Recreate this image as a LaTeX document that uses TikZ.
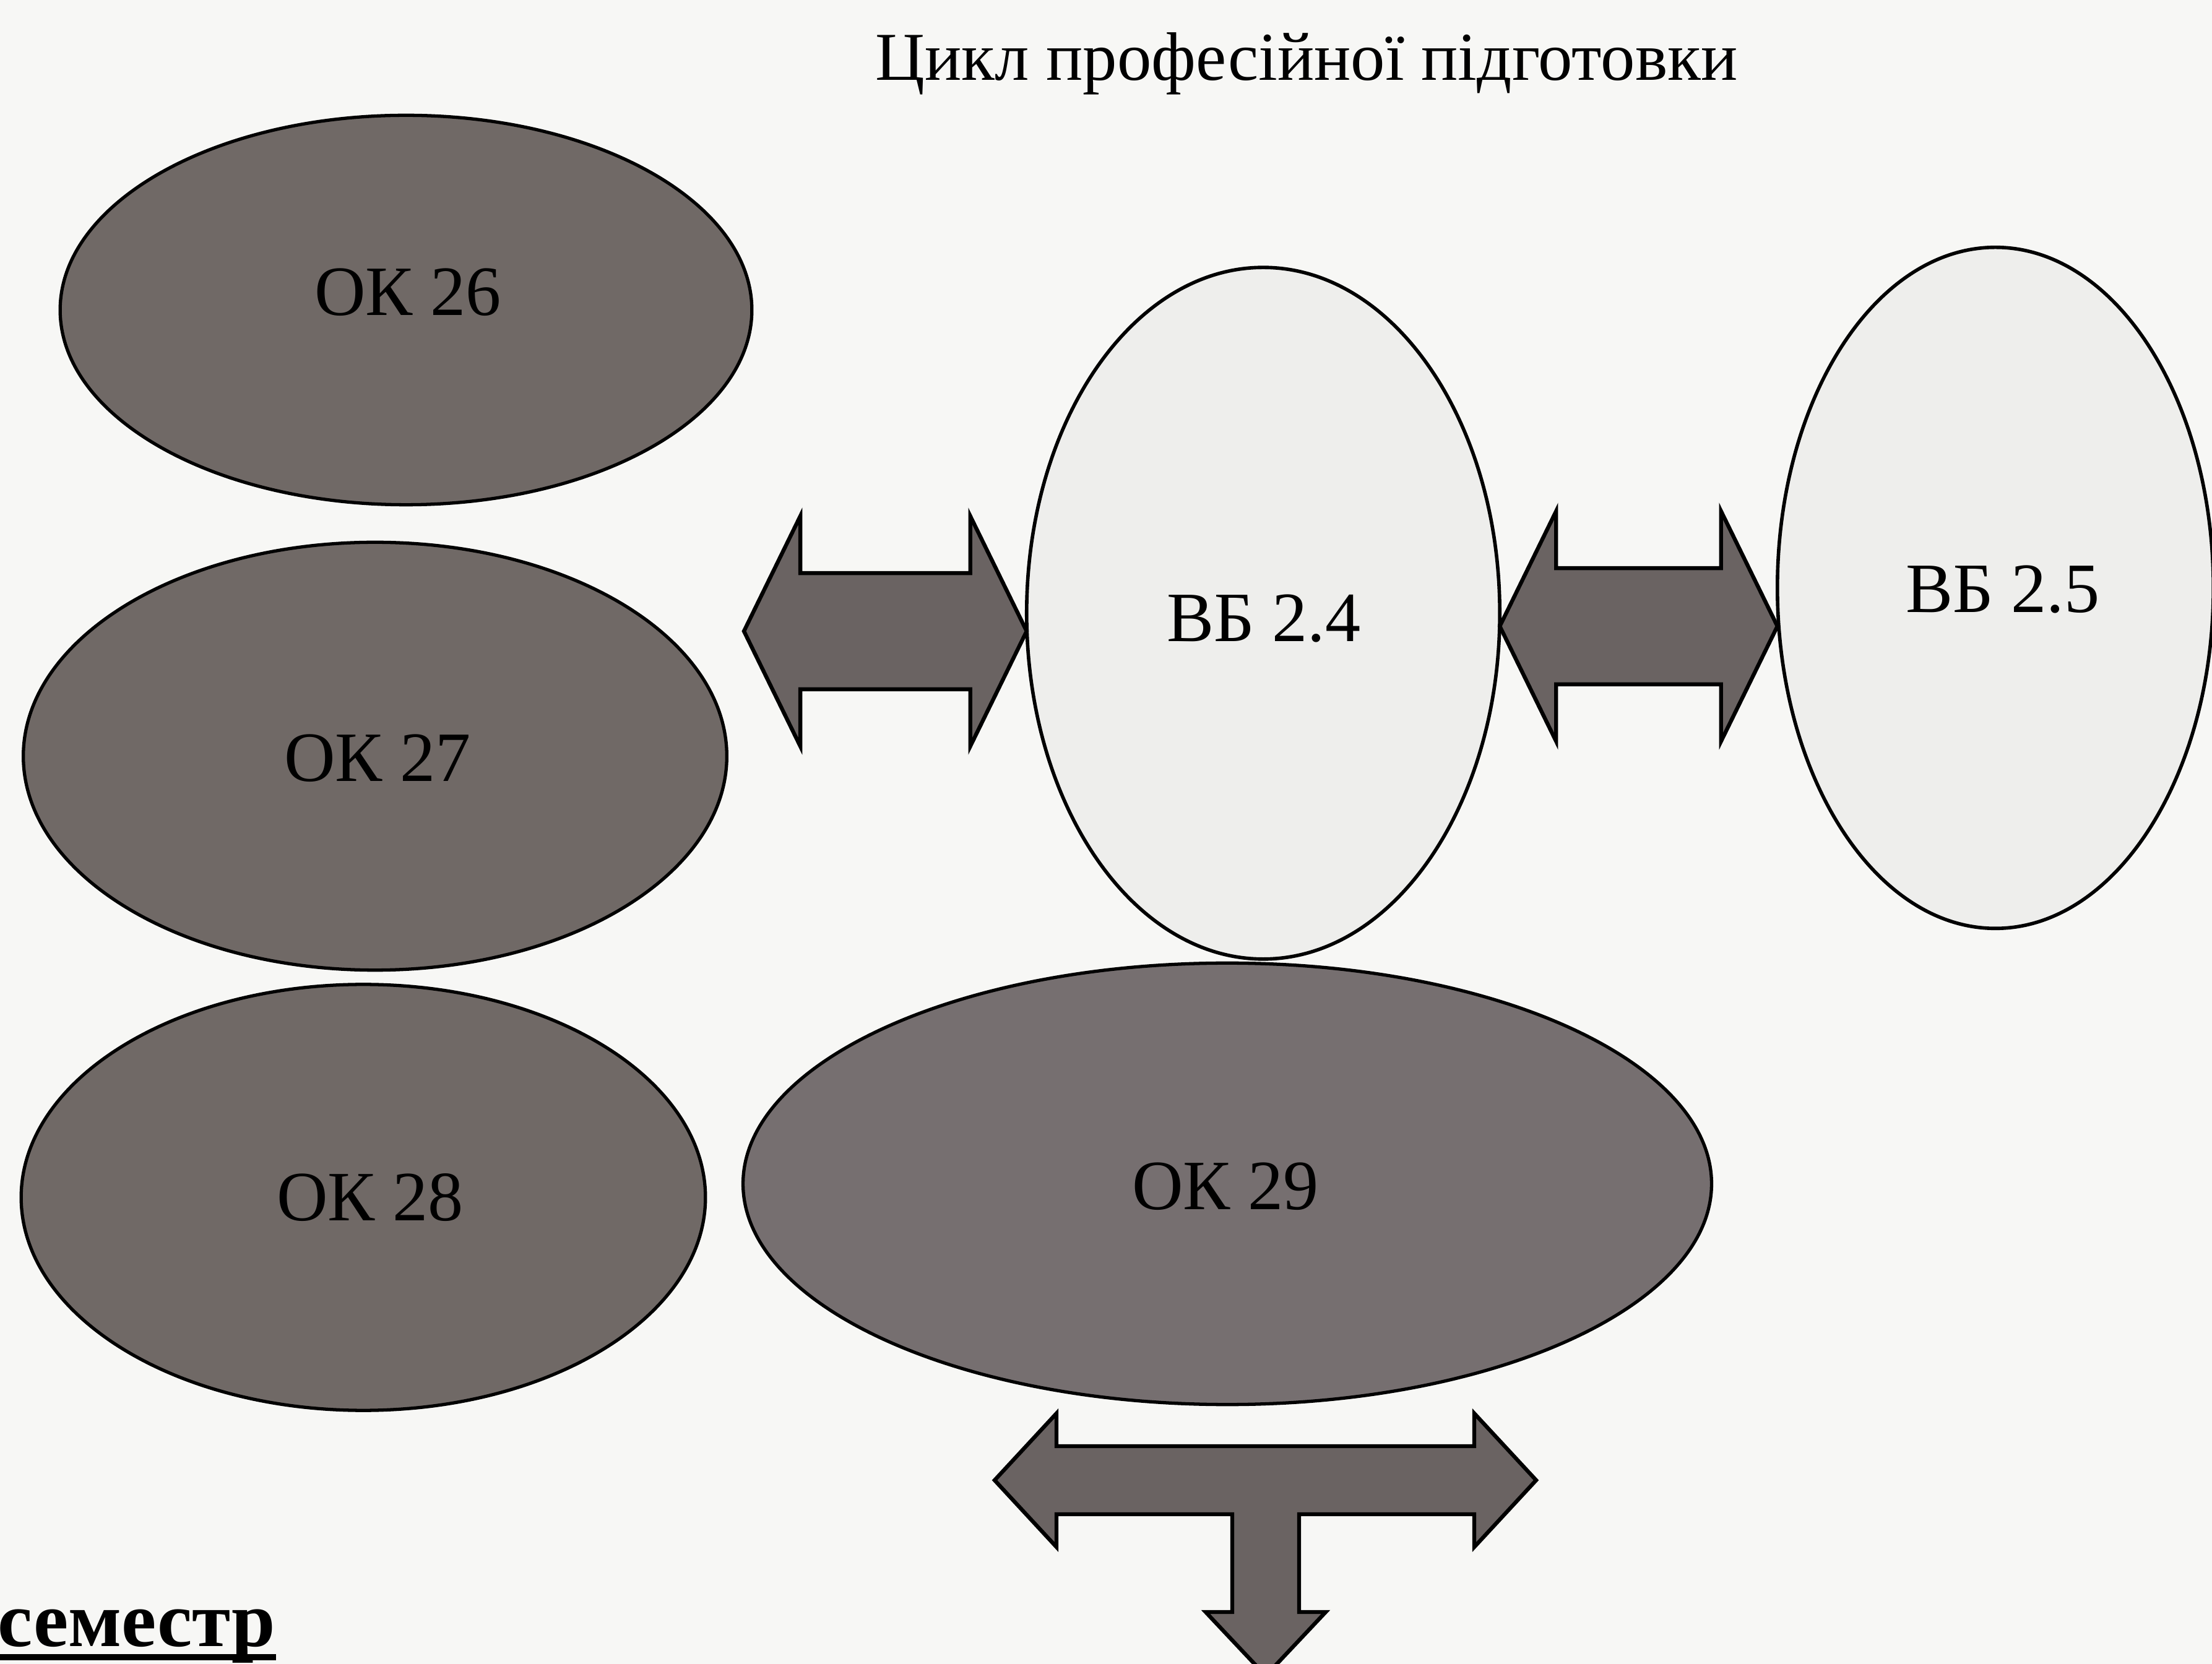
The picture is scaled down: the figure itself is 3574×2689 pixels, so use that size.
\documentclass[tikz,border=0pt]{standalone}
\usepackage{fontspec}
\setmainfont{Liberation Serif}
\usetikzlibrary{shapes.geometric,calc}
\definecolor{bgcol}{RGB}{247,247,245}
\definecolor{darkfill}{RGB}{112,105,102}
\definecolor{darkfillb}{RGB}{118,111,112}
\definecolor{lightfill}{RGB}{238,238,236}
\definecolor{arrfill}{RGB}{106,99,98}
\tikzset{
  darkell/.style={ellipse, draw=black, line width=1.5pt, fill=darkfill, inner sep=0pt, outer sep=0pt},
  lightell/.style={ellipse, draw=black, line width=1.6pt, fill=lightfill, inner sep=0pt, outer sep=0pt},
  lbl/.style={inner sep=0pt, font=\fontsize{32.5}{38}\selectfont},
  blockarr/.style={draw=black, line width=1.8pt, fill=arrfill, line join=miter},
}
\newcommand\dblarrow[2]{%
  \draw[blockarr] let \p1=#1, \p2=#2 in
    (\x1,\y1) -- (\x1+25.9pt,\y1+52.9pt) -- (\x1+25.9pt,\y1+26.7pt)
    -- (\x2-25.9pt,\y1+26.7pt) -- (\x2-25.9pt,\y1+52.9pt) -- (\x2,\y1)
    -- (\x2-25.9pt,\y1-52.9pt) -- (\x2-25.9pt,\y1-26.7pt)
    -- (\x1+25.9pt,\y1-26.7pt) -- (\x1+25.9pt,\y1-52.9pt) -- cycle;}
\begin{document}
\begin{tikzpicture}[x=0.01cm,y=-0.01cm]
\useasboundingbox (0,0) rectangle (3574,2689);
\clip (0,0) rectangle (3574,2689);
\fill[bgcol] (0,0) rectangle (3574,2689);

% title
\node[inner sep=0pt, anchor=base, font=\fontsize{31.5}{38}\selectfont] (title) at (2111,130) {Цикл професійної підготовки};

% ellipses
\node[darkell, minimum width=11.17cm, minimum height=6.29cm] (OK26) at (656,501) {};
\node[darkell, minimum width=11.36cm, minimum height=6.91cm] (OK27) at (606,1222) {};
\node[darkell, minimum width=11.05cm, minimum height=6.88cm] (OK28) at (587,1935) {};
\node[darkell, fill=darkfillb, minimum width=15.64cm, minimum height=7.13cm] (OK29) at (1983,1913) {};
\node[lightell, minimum width=7.64cm, minimum height=11.17cm] (VB24) at (2041,991) {};
\node[lightell, minimum width=7.04cm, minimum height=11.00cm] (VB25) at (3224,950) {};

% labels
\node[lbl] (tOK26) at (659,472) {ОК 26};
\node[lbl] (tOK27) at (610,1225) {ОК 27};
\node[lbl] (tOK28) at (598,1935) {ОК 28};
\node[lbl] (tOK29) at (1980,1917) {ОК 29};
\node[lbl] (tVB24) at (2042,999) {ВБ 2.4};
\node[lbl] (tVB25) at (3236,952) {ВБ 2.5};

% double arrows
\coordinate (a1l) at (1202,1020);
\coordinate (a2c) at (2600,1012);
\dblarrow{(a1l)}{(VB24.west |- a1l)}
\dblarrow{(VB24.east |- a2c)}{(VB25.west |- a2c)}

% T arrow
\coordinate (tc) at (2045,2392);
\draw[blockarr, shift={(tc)}]
  (-438,0) -- (-338,-108) -- (-338,-55) -- (337,-55) -- (337,-108) -- (437,0)
  -- (337,108) -- (337,55) -- (54,55) -- (54,213) -- (97,213) -- (0,316)
  -- (-97,213) -- (-54,213) -- (-54,55) -- (-338,55) -- (-338,108) -- cycle;

% semestr
\node[inner sep=0pt, anchor=base west, font=\bfseries\fontsize{36}{42}\selectfont] (sem) at (-4,2660) {семестр};
\draw[line width=2.6pt] ([yshift=-5.1pt]sem.base west) -- ([yshift=-5.1pt]sem.base east);
\end{tikzpicture}
\end{document}
